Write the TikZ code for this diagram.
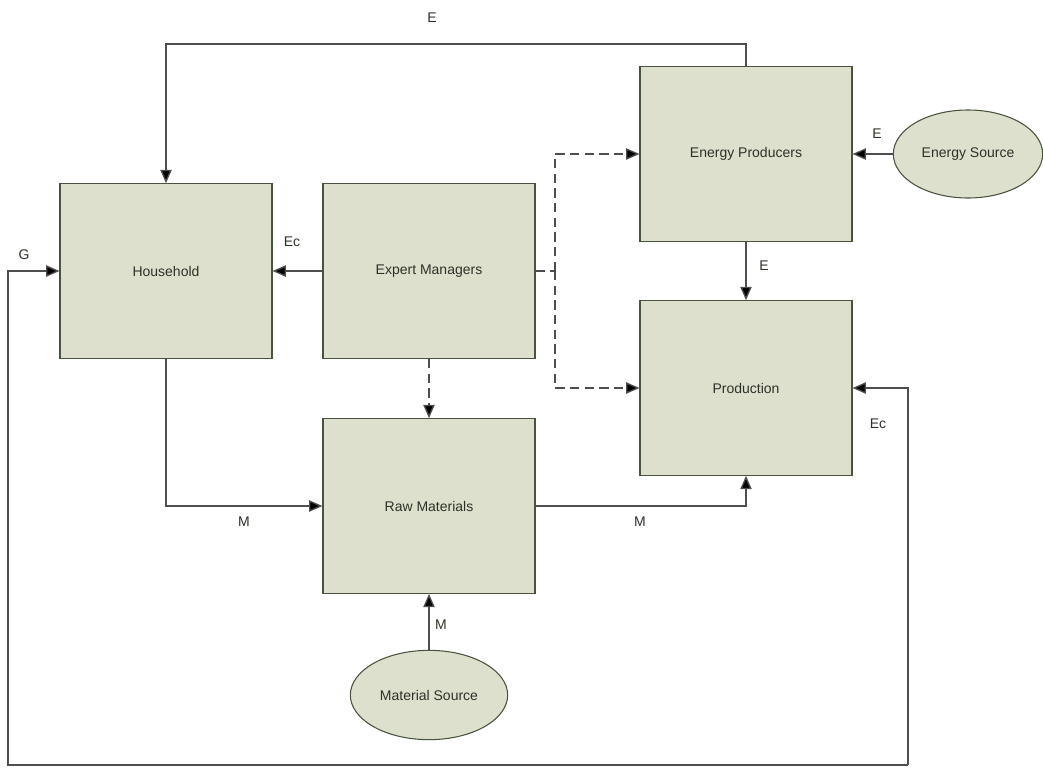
\documentclass[tikz,border=0pt]{standalone}
\usepackage{fontspec}
\setmainfont{Liberation Sans}
\usetikzlibrary{arrows.meta,positioning,shapes.geometric}

\definecolor{boxfill}{RGB}{221,224,205}
\definecolor{boxline}{RGB}{72,84,62}
\definecolor{flow}{RGB}{78,78,78}
\definecolor{ink}{RGB}{45,50,40}

\begin{document}
\begin{tikzpicture}[
  x=0.75pt, y=-0.75pt,
  font=\fontsize{10.5}{12}\selectfont,
  block/.style={draw=boxline, fill=boxfill, line width=0.8pt, inner sep=0pt,
                minimum width=159pt, minimum height=131pt, text=ink},
  source/.style={ellipse, draw=boxline, fill=boxfill, line width=0.8pt, inner sep=0pt,
                 text=ink},
  arr/.style={-{Triangle[length=10pt, width=8.5pt, fill=black]}, line width=1pt, draw=flow},
  dasharr/.style={arr, dash pattern=on 7pt off 4pt},
  dashline/.style={line width=1pt, draw=flow, dash pattern=on 7pt off 4pt},
  lab/.style={font=\fontsize{10.5}{12}\selectfont, text=ink, inner sep=2pt}
]
\useasboundingbox (0,0) rectangle (1043,768);

% ---------------- boxes ----------------
\node[block] (house) at (166,271) {Household};
\node[block] (expert) at (429,271) {Expert Managers};
\node[block] (energy) at (746,154) {Energy Producers};
\node[block] (prod) at (746,388) {Production};
\node[block] (raw) at (429,506) {Raw Materials};

% ---------------- sources ----------------
\node[source, minimum width=112pt, minimum height=66pt] (esrc) at (968,154) {Energy Source};
\node[source, minimum width=118pt, minimum height=67pt] (msrc) at (429,695) {Material Source};

% ---------------- corner points ----------------
\coordinate (etop) at (166,44);
\coordinate (split) at (555,271);
\coordinate (gleft) at (8,765);
\coordinate (gright) at (908,765);

% ---------------- flows ----------------
\draw[arr] (energy.north) |- (etop) -- (house.north);
\node[lab] (elab) at (432,18) {E};
\draw[arr] (expert.west) -- (house.east);
\node[lab] (eclab) at (292,242) {Ec};
\draw[arr] (esrc.west) -- (energy.east);
\node[lab] (eslab) at (877,134) {E};
\draw[arr] (energy.south) -- (prod.north);
\node[lab] (eplab) at (764,266) {E};
\draw[arr] (house.south) |- (raw.west);
\node[lab] (mlab) at (244,522) {M};
\draw[arr] (raw.east) -| (prod.south);
\node[lab] (mplab) at (640,522) {M};
\draw[arr] (msrc.north) -- (raw.south);
\node[lab] (mslab) at (441,625) {M};

% ---------------- management (dashed) ----------------
\draw[dashline] (expert.east) -- (split);
\draw[dasharr] (split) |- (energy.west);
\draw[dasharr] (split) |- (prod.west);
\draw[dasharr] (expert.south) -- (raw.north);

% ---------------- return loop ----------------
\draw[arr] (gright) -- (gleft) |- (house.west);
\draw[arr] (gright) |- (prod.east);
\node[lab] (glab) at (24,255) {G};
\node[lab] (ecplab) at (878,424) {Ec};

\end{tikzpicture}
\end{document}
